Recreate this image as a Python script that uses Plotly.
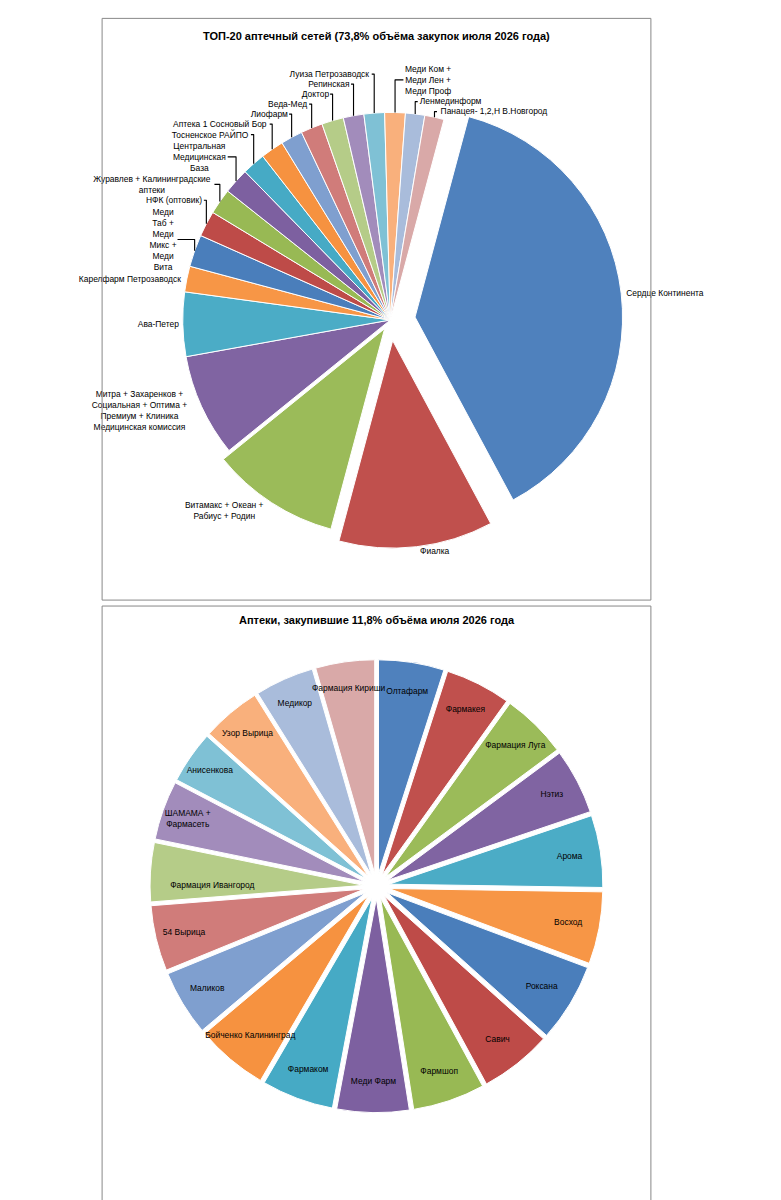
import plotly.graph_objects as go

# top chart: TOP-20 pharmacy chains
top_labels = ["Сердце Континента", "Фиалка", "Витамакс + Океан +<br>Рабиус + Родин",
              "Митра + Захаренков +<br>Социальная + Оптима +<br>Премиум + Клиника<br>Медицинская комиссия",
              "Ава-Петер", "Карелфарм Петрозаводск", "Меди<br>Таб +<br>Меди<br>Микс +<br>Меди<br>Вита",
              "НФК (оптовик)", "Журавлев + Калининградские<br>аптеки", "Центральная<br>Медицинская<br>База",
              "Тосненское РАЙПО", "Аптека 1 Сосновый Бор", "Лиофарм", "Веда-Мед", "Доктор",
              "Репинская", "Луиза Петрозаводск", "Меди Ком +<br>Меди Лен +<br>Меди Проф",
              "Ленмединформ", "Панацея- 1,2,Н В.Новгород"]
top_values = [38, 12, 10, 8, 5, 2, 2.5, 2, 2, 2, 1.8, 1.8, 1.7, 1.7, 1.7, 1.6, 1.6, 1.6, 1.5, 1.5]
top_pull = [0.12, 0.1, 0.05, 0, 0, 0, 0, 0, 0, 0, 0, 0, 0, 0, 0, 0, 0, 0, 0, 0]

# bottom chart: pharmacies that bought 11.8%
bot_labels = ["Олтафарм", "Фармакея", "Фармация Луга", "Нэтиз", "Арома", "Восход", "Роксана",
              "Савич", "Фармшоп", "Меди Фарм", "Фармаком", "Бойченко Калининград", "Маликов",
              "54 Вырица", "Фармация Ивангород", "ШАМАМА +<br>Фармасеть", "Анисенкова",
              "Узор Вырица", "Медикор", "Фармация Кириши"]
bot_values = [5, 5, 5, 5, 5.5, 5.5, 6, 5.5, 5.5, 5.5, 5.5, 5.5, 5, 5, 4.5, 4.5, 4, 4.5, 4.5, 4.5]

colors = ["#4F81BD", "#C0504D", "#9BBB59", "#8064A2", "#4BACC6", "#F79646",
          "#4A7EBB", "#BE4B48", "#98B954", "#7D60A0", "#46AAC5", "#F69240",
          "#7F9FCF", "#D07C7A", "#B5CC88", "#A28CBB", "#7FC1D5", "#F9B07C",
          "#A9BCDB", "#D9A9A8"]

fig = go.Figure()
fig.add_trace(go.Pie(labels=top_labels, values=top_values, pull=top_pull, sort=False,
                     direction="clockwise", rotation=15, textinfo="label",
                     textposition="outside", marker=dict(colors=colors, line=dict(color="white", width=1)),
                     textfont=dict(size=9, color="black"), showlegend=False,
                     domain=dict(x=[0.1, 0.95], y=[0.55, 0.94])))
fig.add_trace(go.Pie(labels=bot_labels, values=bot_values, pull=[0.06] * len(bot_values), sort=False,
                     direction="clockwise", rotation=0, textinfo="label",
                     textposition="inside", insidetextorientation="horizontal",
                     marker=dict(colors=colors, line=dict(color="white", width=1)),
                     textfont=dict(size=9, color="black"), showlegend=False,
                     domain=dict(x=[0.02, 0.98], y=[0.08, 0.46])))

fig.update_layout(
    autosize=True, height=1200, margin=dict(l=0, r=0, t=0, b=0),
    paper_bgcolor="white", font=dict(family="Liberation Sans"),
    uniformtext=dict(minsize=8, mode="show"),
    shapes=[dict(type="rect", xref="paper", yref="paper", x0=0.002, x1=0.998, y0=0.51, y1=0.998,
                 line=dict(color="#888", width=1)),
            dict(type="rect", xref="paper", yref="paper", x0=0.002, x1=0.998, y0=0.002, y1=0.505,
                 line=dict(color="#888", width=1))],
    annotations=[dict(text="<b>ТОП-20 аптечный сетей (73,8% объёма закупок июля 2026 года)</b>",
                      x=0.5, y=0.99, xref="paper", yref="paper", showarrow=False,
                      font=dict(size=11, color="black"), yanchor="top"),
                 dict(text="<b>Аптеки, закупившие 11,8% объёма июля 2026 года</b>",
                      x=0.5, y=0.5, xref="paper", yref="paper", showarrow=False,
                      font=dict(size=11, color="black"), yanchor="top")],
)
fig.write_html("out.html", config={"responsive": True})
